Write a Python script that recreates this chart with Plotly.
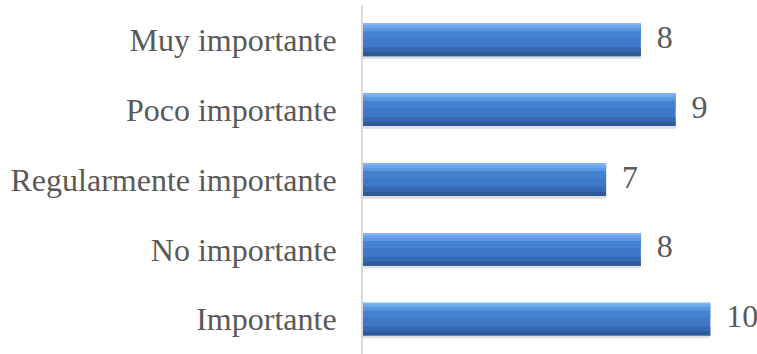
import plotly.graph_objects as go

# Response categories (top to bottom as displayed) and their counts
categories = ["Muy importante", "Poco importante", "Regularmente importante",
              "No importante", "Importante"]
counts = [8, 9, 7, 8, 10]

# plot bottom-to-top so the first category sits at the top
cats_bt = categories[::-1]
vals_bt = counts[::-1]

FONT = "Liberation Serif"
TEXT_COLOR = "#595959"
FONT_SIZE = 32

# Stripes that build the glossy look of each bar: (offset, width, colour)
BAR_HALF = 0.235
stripes = [
    (-BAR_HALF - 0.04, 2 * BAR_HALF, "rgba(0,0,0,0.12)"),   # soft drop shadow
    (-BAR_HALF, 2 * BAR_HALF, "#3F78C6"),                    # body
    (-BAR_HALF, 0.06, "#2D5A98"),                            # dark lower edge
    (-BAR_HALF + 0.06, 0.07, "#3669B2"),
    (0.02, 0.10, "#4482D0"),
    (0.12, 0.07, "#5A97E0"),
    (0.17, 0.04, "#6CA6EA"),
    (0.205, 0.03, "#80B6F2"),                                # top rim
]

fig = go.Figure()
for off, w, col in stripes:
    fig.add_trace(go.Bar(
        x=vals_bt, y=cats_bt, orientation="h",
        offset=off, width=w,
        marker=dict(color=col, line=dict(width=0)),
        hoverinfo="skip", showlegend=False,
    ))

# value labels to the right of each bar
fig.add_trace(go.Scatter(
    x=vals_bt, y=cats_bt, mode="text",
    text=[f"  {v}" for v in vals_bt],
    textposition="middle right",
    textfont=dict(family=FONT, size=FONT_SIZE, color=TEXT_COLOR),
    hoverinfo="skip", showlegend=False, cliponaxis=False,
))

fig.update_layout(
    width=757, height=354,
    margin=dict(l=363, r=12, t=5, b=0),
    paper_bgcolor="white", plot_bgcolor="white",
    barmode="overlay",
    xaxis=dict(range=[0, 11], visible=False, fixedrange=True),
    yaxis=dict(
        type="category", categoryorder="array", categoryarray=cats_bt,
        showline=True, linecolor="#D9D9D9", linewidth=2,
        showgrid=False, ticks="", ticklabelstandoff=18,
        tickfont=dict(family=FONT, size=FONT_SIZE, color=TEXT_COLOR),
        fixedrange=True,
    ),
)

fig.write_html("out.html")
